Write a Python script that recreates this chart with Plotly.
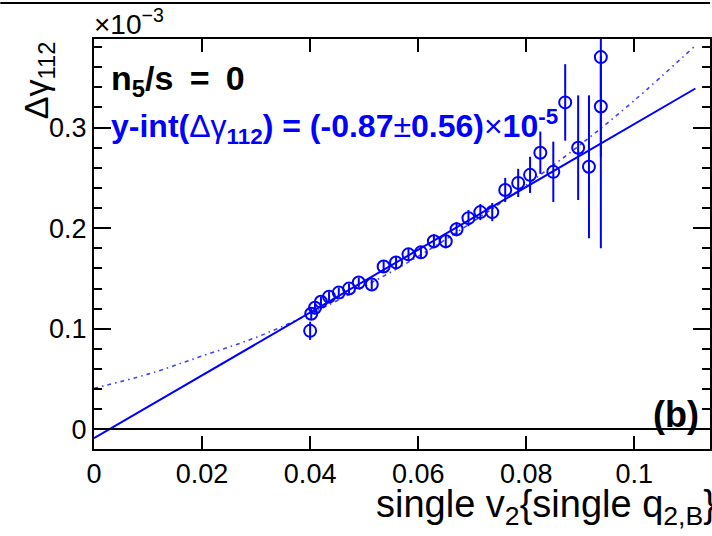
import plotly.graph_objects as go

# ---------------- data ----------------
v2 = [0.0400, 0.0402, 0.0409, 0.0420, 0.0435, 0.0453, 0.0472, 0.0490, 0.0514, 0.0536,
      0.0559, 0.0582, 0.0605, 0.0629, 0.0651, 0.0671, 0.0693, 0.0715, 0.0737, 0.0761,
      0.0785, 0.0807, 0.0826, 0.0850, 0.0872, 0.0896, 0.0916, 0.0938, 0.0938]
dgamma = [0.098, 0.115, 0.121, 0.127, 0.132, 0.136, 0.140, 0.146, 0.144, 0.162,
          0.166, 0.174, 0.176, 0.187, 0.187, 0.199, 0.210, 0.216, 0.216, 0.238,
          0.245, 0.253, 0.275, 0.256, 0.325, 0.280, 0.261, 0.321, 0.370]
dgamma_err = [0.009, 0.006, 0.005, 0.005, 0.005, 0.005, 0.005, 0.005, 0.005, 0.006,
              0.006, 0.006, 0.006, 0.007, 0.007, 0.007, 0.008, 0.008, 0.009, 0.012,
              0.014, 0.018, 0.021, 0.030, 0.038, 0.052, 0.071, 0.050, 0.190]

lin_x = [0.0, 0.1113]
lin_y = [-0.0087, 0.3388]

quad_x = [0.0, 0.01, 0.02, 0.03, 0.04, 0.05, 0.06, 0.07, 0.08, 0.09, 0.10, 0.111]
quad_y = [0.041, 0.055, 0.073, 0.0915, 0.115, 0.142, 0.172, 0.206, 0.243, 0.283, 0.327, 0.380]

x_tickvals = [0, 0.02, 0.04, 0.06, 0.08, 0.1]
x_ticktext = ["0", "0.02", "0.04", "0.06", "0.08", "0.1"]
y_tickvals = [0, 0.1, 0.2, 0.3]
y_ticktext = ["0", "0.1", "0.2", "0.3"]

# ---------------- layout helpers ----------------
W, H = 712, 536
L, R, T, B = 94, 0, 39, 87
PW, PH = W - L - R, H - T - B


def px(x):
    return (x - L) / PW


def py(y):
    return (H - B - y) / PH


FONT = "Liberation Sans, Arial, Helvetica, sans-serif"
BLUE = "#0000ff"

fig = go.Figure()

fig.add_trace(go.Scatter(
    x=quad_x, y=quad_y, mode="lines", line_shape="spline",
    line=dict(color="#4040ff", width=1.6, dash="4px,4px,1.5px,4px"),
    hoverinfo="skip", showlegend=False))

fig.add_trace(go.Scatter(
    x=lin_x, y=lin_y, mode="lines",
    line=dict(color=BLUE, width=2),
    hoverinfo="skip", showlegend=False))

fig.add_trace(go.Scatter(
    x=v2, y=dgamma, mode="markers",
    marker=dict(symbol="circle-open", size=12, color=BLUE, line=dict(width=2, color=BLUE)),
    error_y=dict(type="data", array=dgamma_err, visible=True, color=BLUE, thickness=2, width=0),
    showlegend=False))

axis_common = dict(
    showline=True, linewidth=2, linecolor="black", mirror="ticks",
    ticks="inside", tickcolor="black", tickwidth=2, showgrid=False,
    tickfont=dict(family=FONT, size=27, color="black"),
)

fig.update_layout(
    width=W, height=H,
    margin=dict(l=L, r=R, t=T, b=B, pad=0),
    paper_bgcolor="white", plot_bgcolor="white",
    xaxis=dict(range=[0, 0.114], tickvals=x_tickvals, ticktext=x_ticktext,
               ticklen=13, zeroline=False, **axis_common),
    yaxis=dict(range=[-0.0194, 0.388], tickvals=y_tickvals, ticktext=y_ticktext,
               ticklen=17, zeroline=True, zerolinecolor="black", zerolinewidth=2,
               minor=dict(tickvals=[-0.02, 0.02, 0.04, 0.06, 0.08, 0.12, 0.14, 0.16, 0.18,
                                    0.22, 0.24, 0.26, 0.28, 0.32, 0.34, 0.36, 0.38],
                          ticks="inside", ticklen=8, tickwidth=2, tickcolor="black"),
               **axis_common),
    showlegend=False,
)

annotations = [
    dict(x=px(92), y=py(22), text="×10<sup>−3</sup>", xanchor="left", yanchor="middle",
         font=dict(family=FONT, size=28, color="black")),
    dict(x=px(38), y=py(80), text="Δγ<sub>112</sub>", textangle=-90,
         xanchor="center", yanchor="middle",
         font=dict(family=FONT, size=34, color="black")),
    dict(x=px(720), y=py(507), text="single v<sub>2</sub>{single q<sub>2,B</sub>}",
         xanchor="right", yanchor="middle",
         font=dict(family=FONT, size=38, color="black")),
    dict(x=px(109), y=py(80), text="<b>n<sub>5</sub>/s\u2009 = \u20090</b>",
         xanchor="left", yanchor="middle",
         font=dict(family=FONT, size=34, color="black")),
    dict(x=px(109), y=py(127),
         text="<b>y-int(</b>Δγ<sub><b>112</b></sub><b>) = (-0.87</b>±<b>0.56)</b>×<b>10</b><sup><b>-5</b></sup>",
         xanchor="left", yanchor="middle",
         font=dict(family=FONT, size=32, color=BLUE)),
    dict(x=px(703), y=py(414), text="<b>(b)</b>", xanchor="right", yanchor="middle",
         font=dict(family=FONT, size=36, color="black")),
]
for a in annotations:
    a.update(xref="paper", yref="paper", showarrow=False)
fig.update_layout(annotations=annotations)

# thin frame line at the very top of the canvas
fig.add_shape(type="line", xref="paper", yref="paper",
              x0=px(0), x1=px(712), y0=py(3), y1=py(3),
              line=dict(color="black", width=2))

fig.write_html("out.html")
